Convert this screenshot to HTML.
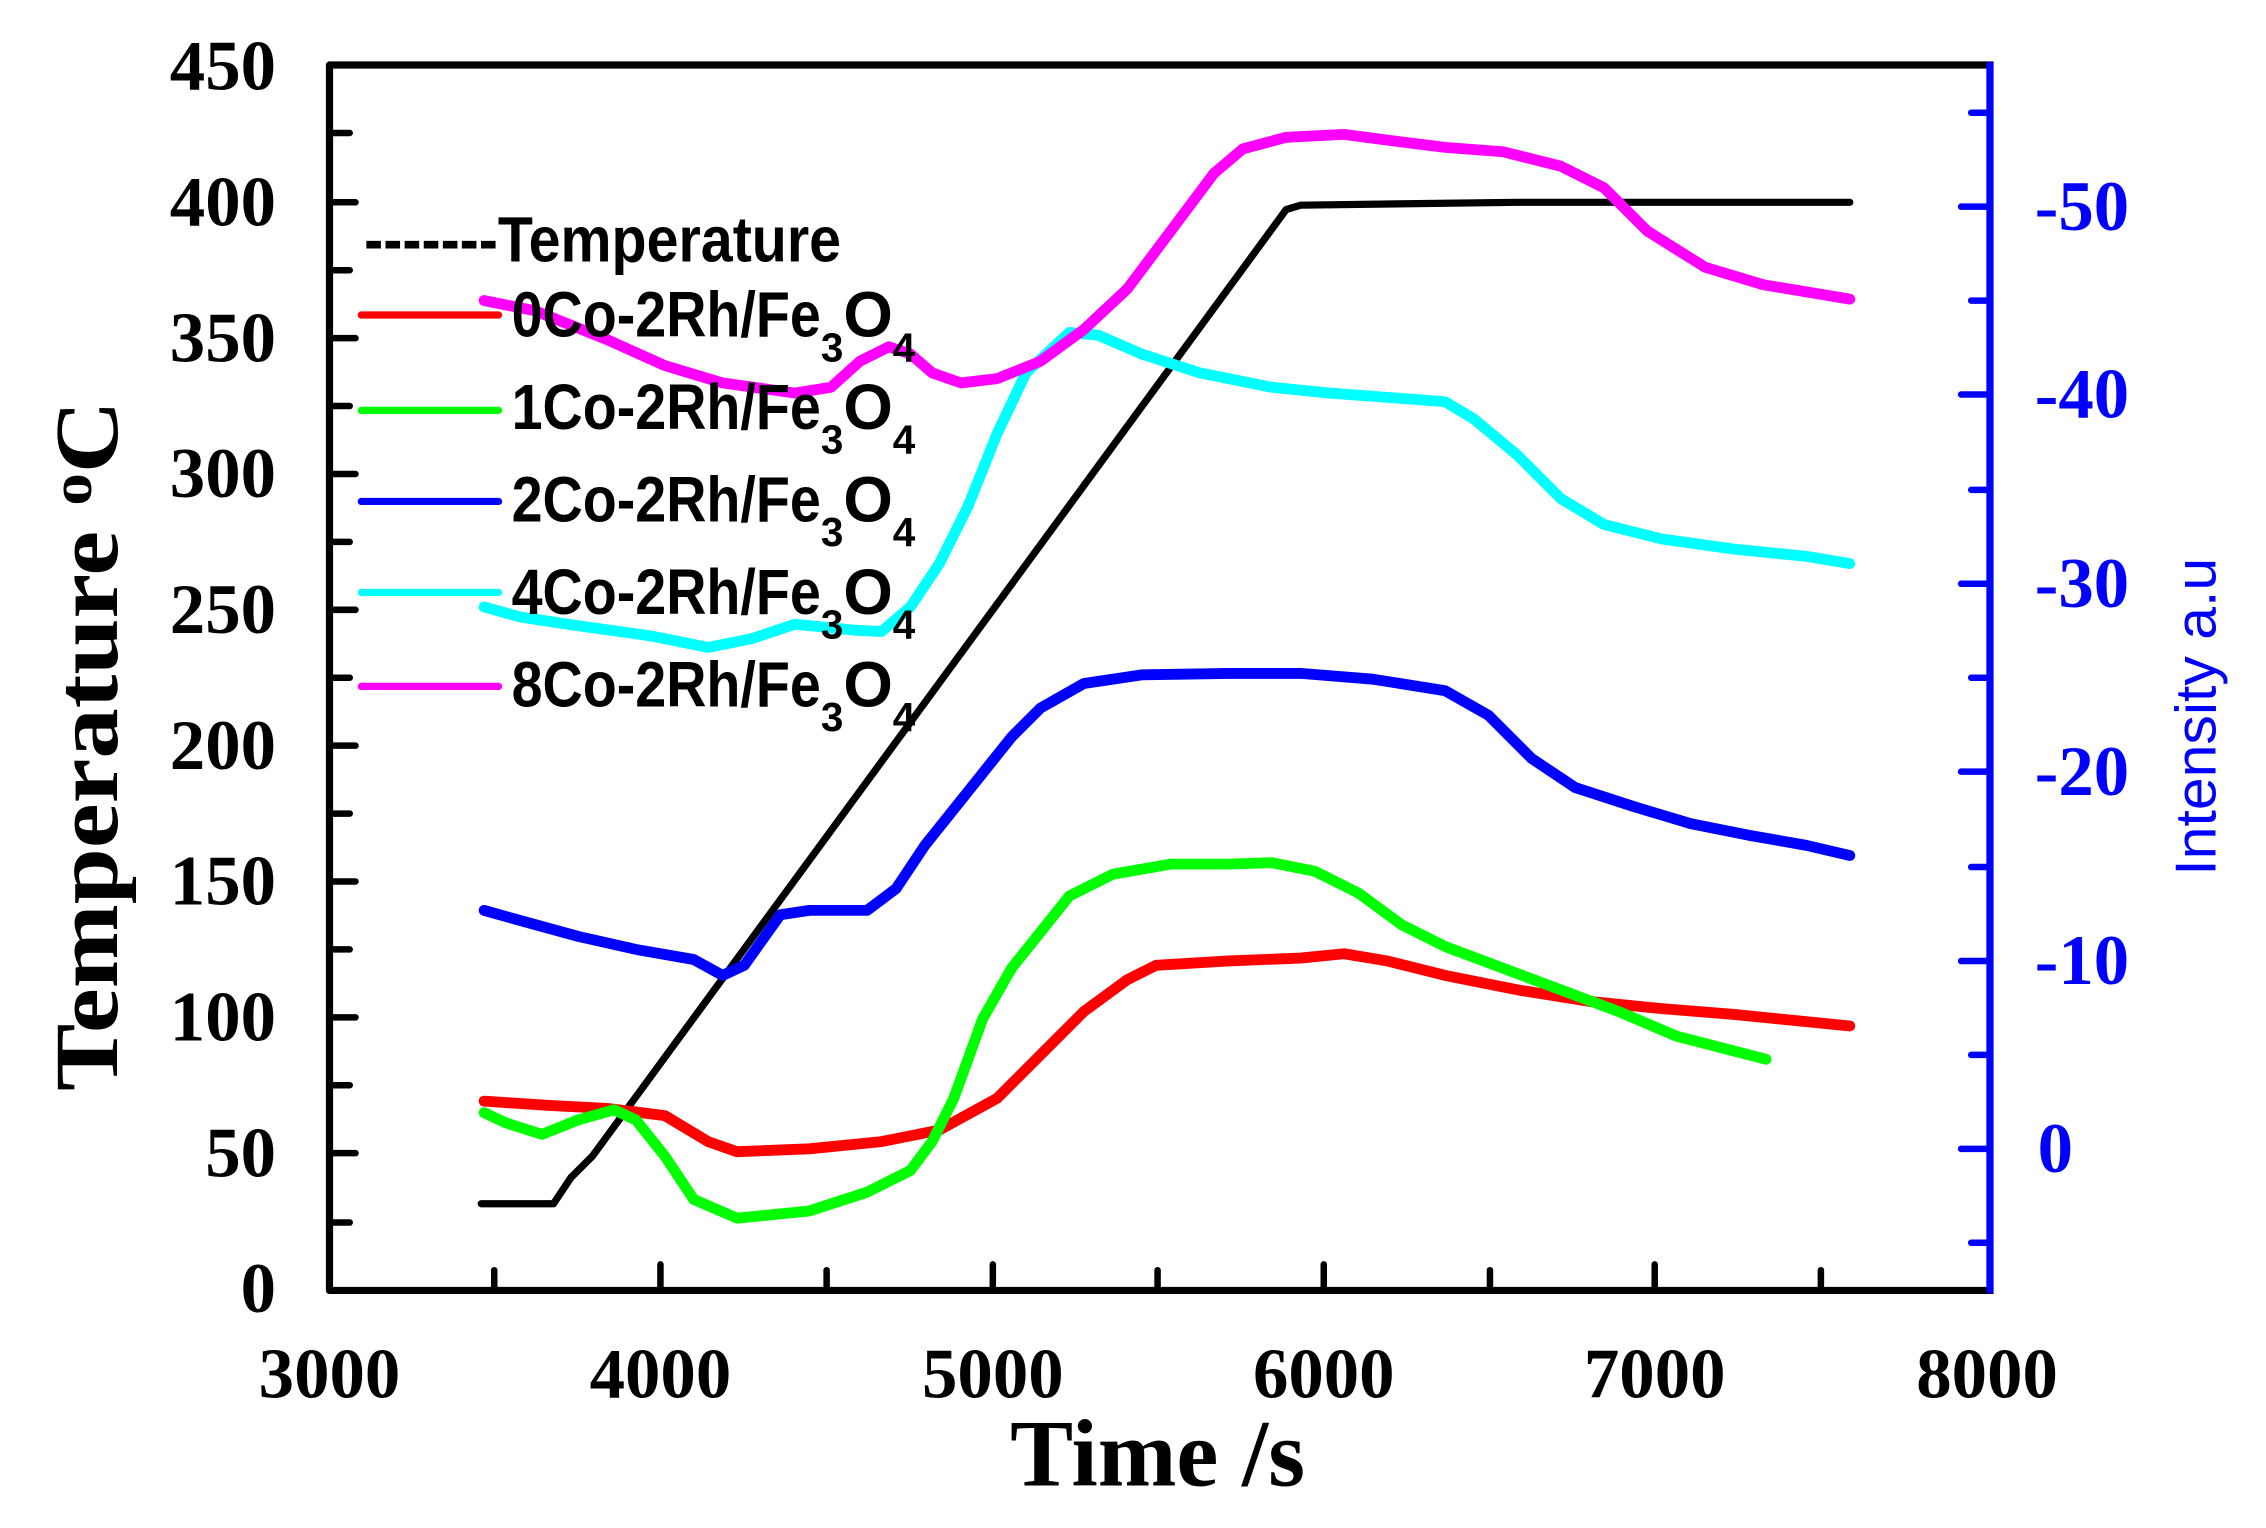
<!DOCTYPE html>
<html><head><meta charset="utf-8"><style>html,body{margin:0;padding:0;background:#fff}svg{display:block}</style></head>
<body>
<svg width="2266" height="1528" viewBox="0 0 1568 1057.4" preserveAspectRatio="none" xmlns="http://www.w3.org/2000/svg">
<g fill="none" stroke-linecap="round" stroke-linejoin="round">
<g stroke="#000" stroke-width="4.5">
<path d="M228,140h18M228,234h18M228,328h18M228,422h18M228,516h18M228,610h18M228,704h18M228,798h18"/>
<path d="M228,92h14M228,187h14M228,281h14M228,375h14M228,469h14M228,563h14M228,657h14M228,751h14M228,846h14"/>
<path d="M457,893v-18M687,893v-18M916,893v-18M1145,893v-18"/>
<path d="M342,893v-14M572,893v-14M801,893v-14M1031,893v-14M1260,893v-14"/>
</g>
<g stroke="#00f" stroke-width="4.5">
<path d="M1377,143h-20M1377,273h-20M1377,404h-20M1377,534h-20M1377,665h-20M1377,795h-20"/>
<path d="M1377,78h-13M1377,208h-13M1377,339h-13M1377,469h-13M1377,600h-13M1377,730h-13M1377,860h-13"/>
</g>
<path stroke="#000" stroke-width="5" d="M333,833L383,833L395,815L410,800L890,145L900,142L1050,140L1280,140"/>
<path stroke="#f00" stroke-width="7.5" d="M335,762L380,765L420,767L460,772L490,790L510,797L560,795L610,790L650,782L690,760L720,730L750,700L780,678L800,668L850,665L900,663L930,660L960,665L1000,675L1050,685L1100,693L1150,698L1200,702L1280,710"/>
<path stroke="#0f0" stroke-width="7.5" d="M335,770L350,777L375,785L400,775L425,768L440,775L460,800L480,830L510,843L560,838L600,825L630,810L645,790L660,760L680,705L700,670L720,645L740,620L770,605L810,598L850,598L880,597L910,603L940,618L970,640L1000,655L1040,670L1080,685L1120,700L1160,717L1222,733"/>
<path stroke="#00f" stroke-width="7.5" d="M335,630L360,637L400,648L440,657L480,664L500,675L515,668L540,633L560,630L600,630L620,615L640,585L660,560L680,535L700,510L720,490L750,473L790,467L850,466L900,466L950,470L1000,478L1030,495L1060,525L1090,545L1130,558L1170,570L1210,578L1250,585L1280,592"/>
<path stroke="#0ff" stroke-width="7.5" d="M335,420L360,427L400,433L450,440L490,448L520,442L550,432L590,436L610,437L630,420L650,390L670,350L690,300L710,258L740,230L760,232L790,245L830,258L880,268L920,272L960,275L1000,278L1020,290L1050,315L1080,345L1110,363L1150,373L1200,380L1250,385L1280,390"/>
<path stroke="#f0f" stroke-width="7.5" d="M335,208L370,215L420,235L460,253L500,265L550,272L575,268L595,250L615,240L630,245L645,258L665,265L690,262L720,250L750,228L780,200L810,160L840,120L860,103L890,95L930,93L960,97L1000,102L1040,105L1080,115L1110,130L1140,160L1180,185L1220,197L1280,207"/>
<path stroke="#000" stroke-width="5" stroke-linecap="square" d="M1377,45H228V893H1377"/>
<path stroke="#00f" stroke-width="5" d="M1377,45V893"/>
<path stroke="#f00" stroke-width="5" d="M250,218H345"/>
<path stroke="#0f0" stroke-width="5" d="M250,284H345"/>
<path stroke="#00f" stroke-width="5" d="M250,347H345"/>
<path stroke="#0ff" stroke-width="5" d="M250,410H345"/>
<path stroke="#f0f" stroke-width="5" d="M250,475H345"/>
</g>
<g font-family="'Liberation Serif',serif" font-weight="bold" font-size="49" fill="#000">
<g text-anchor="end">
<text x="191" y="62">450</text><text x="191" y="156">400</text><text x="191" y="250">350</text><text x="191" y="344">300</text><text x="191" y="438">250</text><text x="191" y="532">200</text><text x="191" y="626">150</text><text x="191" y="720">100</text><text x="191" y="814">50</text><text x="191" y="908">0</text>
</g>
<g text-anchor="middle">
<text x="228" y="967">3000</text><text x="457" y="967">4000</text><text x="687" y="967">5000</text><text x="916" y="967">6000</text><text x="1145" y="967">7000</text><text x="1375" y="967">8000</text>
</g>
<g fill="#00f">
<text x="1408" y="159">-50</text><text x="1408" y="289">-40</text><text x="1408" y="420">-30</text><text x="1408" y="550">-20</text><text x="1408" y="681">-10</text><text x="1410" y="811">0</text>
</g>
<text x="699" y="1028" font-size="66" textLength="204" lengthAdjust="spacingAndGlyphs">Time /s</text>
<text transform="translate(81,755) rotate(-90)" font-size="62" textLength="478" lengthAdjust="spacingAndGlyphs">Temperature <tspan font-size="40" dy="-18">o</tspan><tspan dy="18">C</tspan></text>
</g>
<text transform="translate(1533,606) rotate(-90)" font-family="'Liberation Sans',sans-serif" font-size="40" fill="#00f" textLength="220" lengthAdjust="spacingAndGlyphs">Intensity a.u</text>
<g font-family="'Liberation Sans',sans-serif" font-weight="bold" font-size="44" fill="#000">
<text x="252" y="181" textLength="330" lengthAdjust="spacingAndGlyphs">-------Temperature</text>
<text x="354" y="233"><tspan textLength="214" lengthAdjust="spacingAndGlyphs">0Co-2Rh/Fe</tspan><tspan font-size="28" dy="17">3</tspan><tspan dy="-17">O</tspan><tspan font-size="28" dy="17">4</tspan></text>
<text x="354" y="297"><tspan textLength="214" lengthAdjust="spacingAndGlyphs">1Co-2Rh/Fe</tspan><tspan font-size="28" dy="17">3</tspan><tspan dy="-17">O</tspan><tspan font-size="28" dy="17">4</tspan></text>
<text x="354" y="361"><tspan textLength="214" lengthAdjust="spacingAndGlyphs">2Co-2Rh/Fe</tspan><tspan font-size="28" dy="17">3</tspan><tspan dy="-17">O</tspan><tspan font-size="28" dy="17">4</tspan></text>
<text x="354" y="425"><tspan textLength="214" lengthAdjust="spacingAndGlyphs">4Co-2Rh/Fe</tspan><tspan font-size="28" dy="17">3</tspan><tspan dy="-17">O</tspan><tspan font-size="28" dy="17">4</tspan></text>
<text x="354" y="489"><tspan textLength="214" lengthAdjust="spacingAndGlyphs">8Co-2Rh/Fe</tspan><tspan font-size="28" dy="17">3</tspan><tspan dy="-17">O</tspan><tspan font-size="28" dy="17">4</tspan></text>
</g>
</svg>
</body></html>
